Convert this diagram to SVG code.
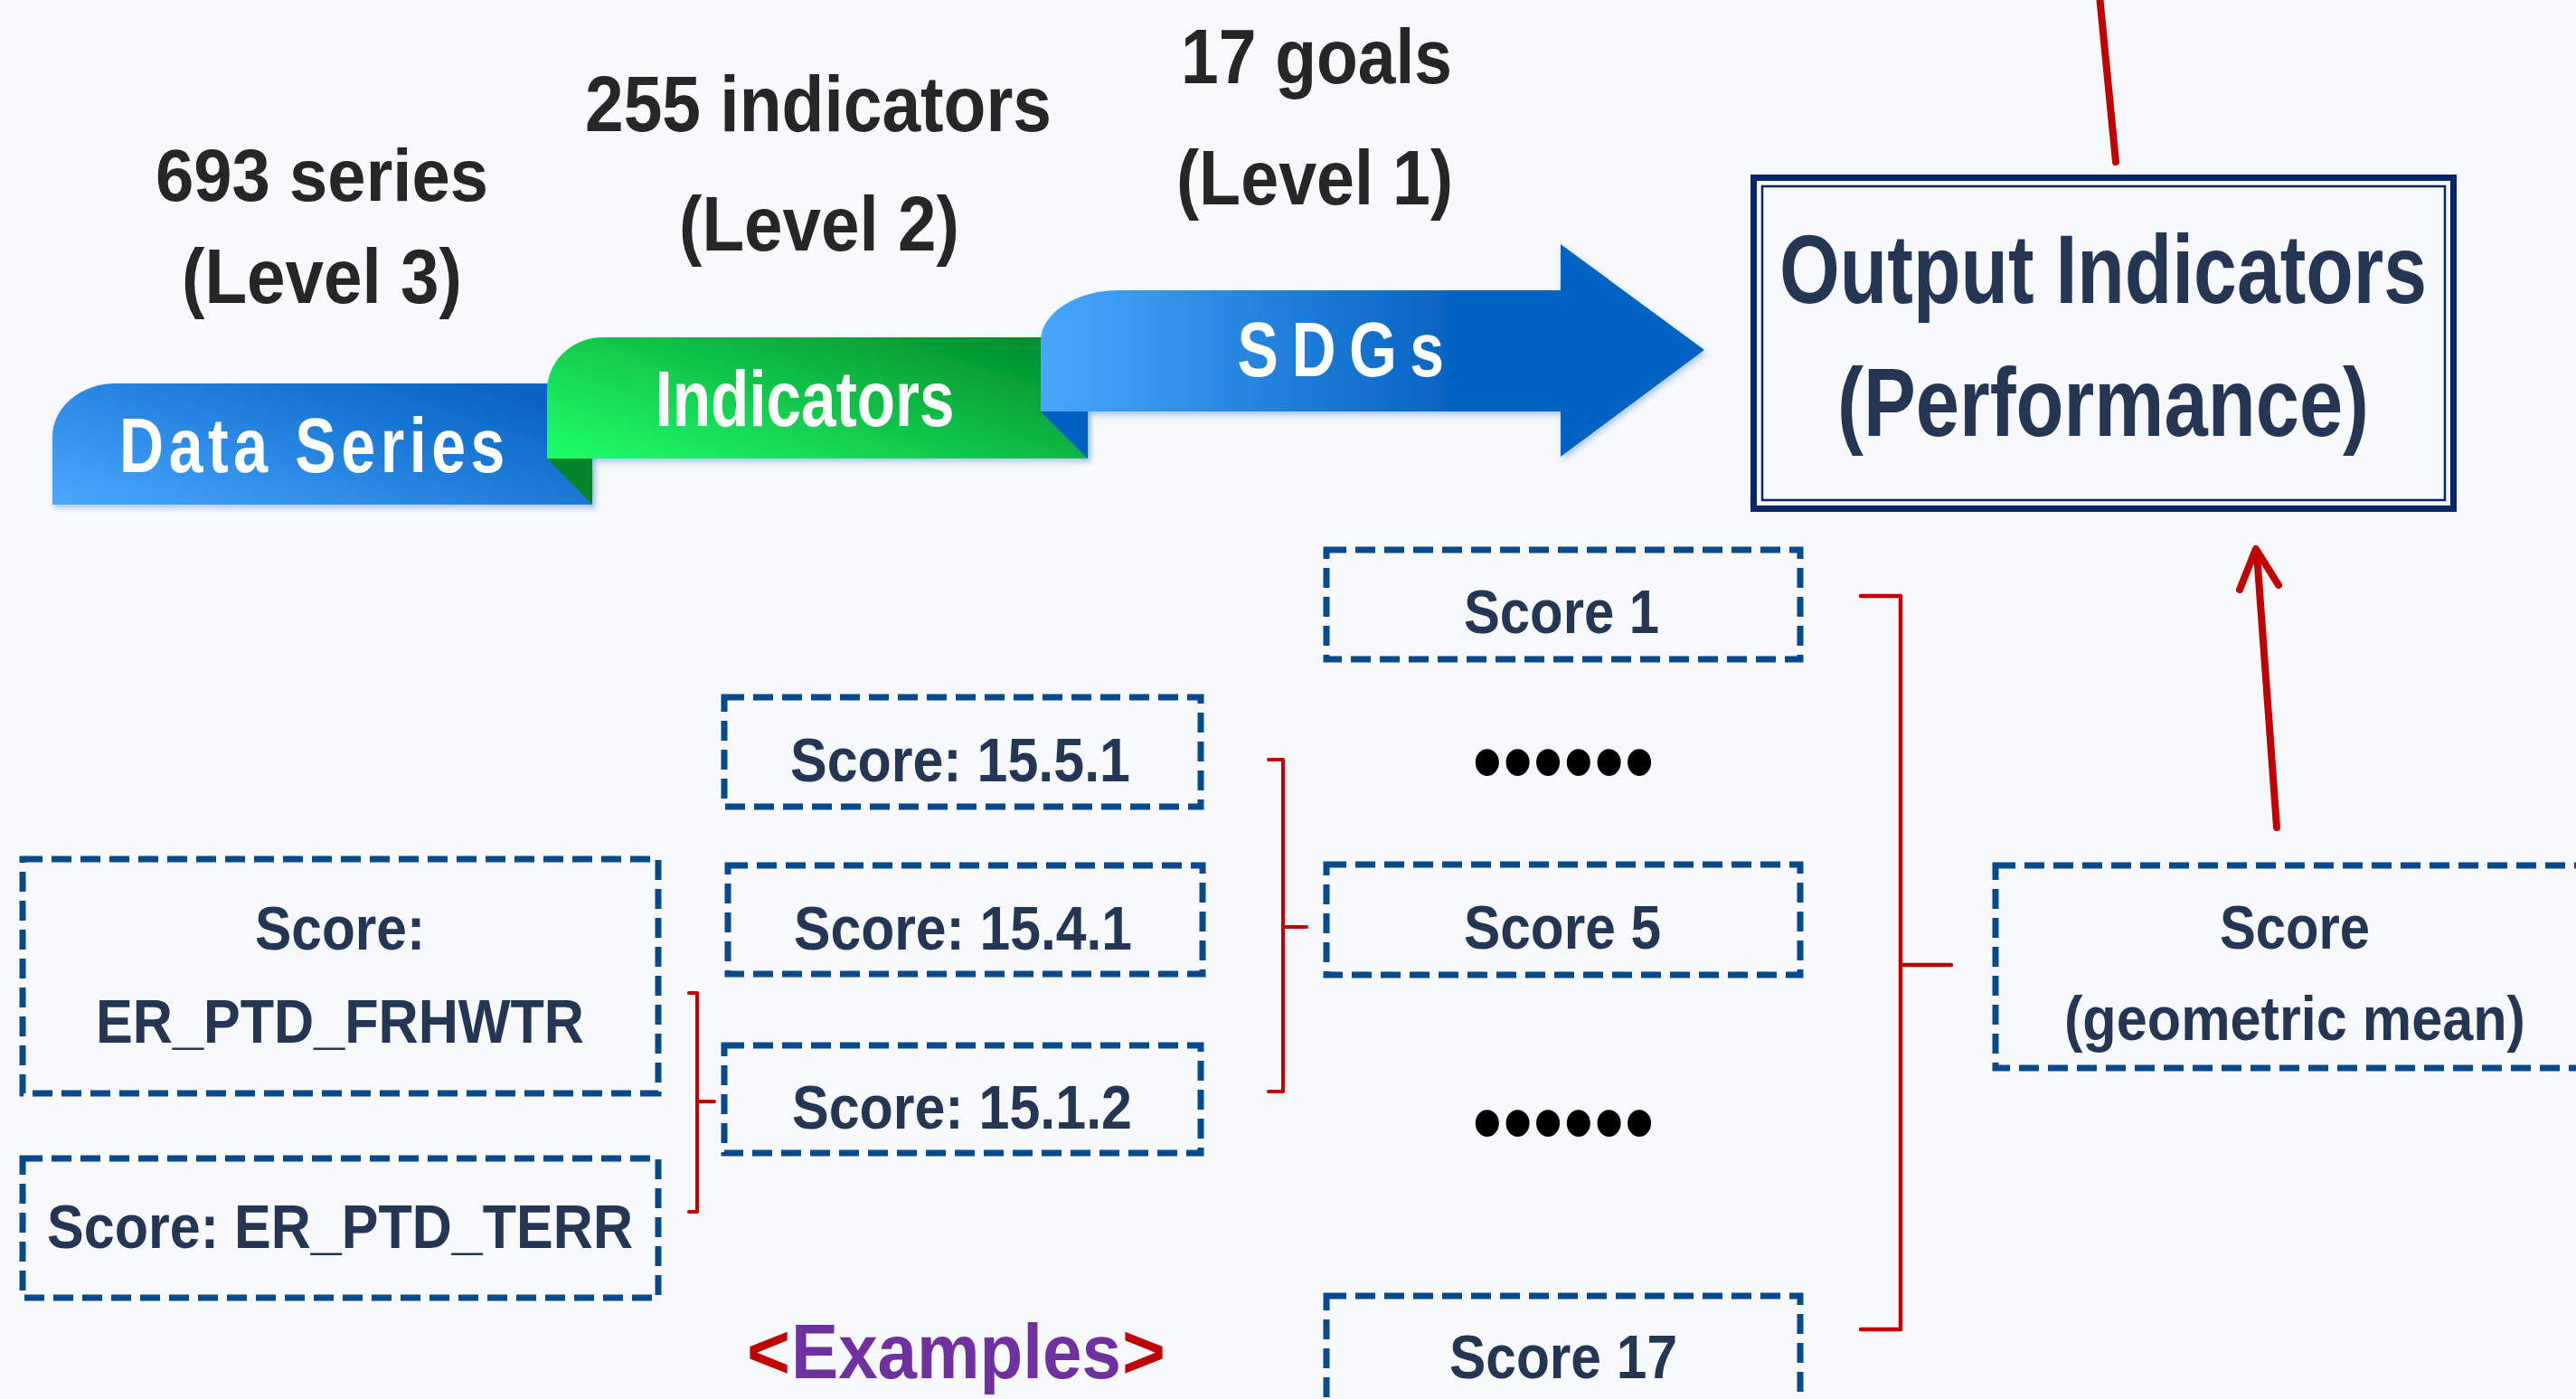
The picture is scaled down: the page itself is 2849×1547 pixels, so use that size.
<svg xmlns="http://www.w3.org/2000/svg" width="2849" height="1547" viewBox="0 0 2849 1547">
<style>
.lbl{font-family:"Liberation Sans",Arial,sans-serif;font-weight:bold;fill:#262626;text-anchor:middle}
.rib{font-family:"Liberation Sans",Arial,sans-serif;font-weight:bold;fill:#ffffff;text-anchor:middle}
.box{fill:none;stroke:#064a8d;stroke-width:7;stroke-dasharray:22 10}
.bt{font-family:"Liberation Sans",Arial,sans-serif;font-weight:bold;fill:#253655;text-anchor:middle;font-size:68px}
.ex{font-family:"Liberation Sans",Arial,sans-serif;font-weight:bold;font-size:85px}
.dots{font-family:"Liberation Sans",Arial,sans-serif;font-size:110px;fill:#000;text-anchor:middle}
.red{fill:none;stroke:#c00000;stroke-linecap:round;stroke-linejoin:round}
</style>
<defs>
<linearGradient id="gBlue1" x1="0" y1="1" x2="1" y2="0.3">
<stop offset="0" stop-color="#48a8fd"/><stop offset="1" stop-color="#0864c4"/>
</linearGradient>
<linearGradient id="gGreen" x1="0" y1="0.9" x2="1" y2="0.2">
<stop offset="0" stop-color="#1ffb66"/><stop offset="1" stop-color="#02902e"/>
</linearGradient>
<linearGradient id="gBlue2" x1="0" y1="0" x2="1" y2="0">
<stop offset="0" stop-color="#48a8fd"/><stop offset="0.62" stop-color="#0563c1"/><stop offset="1" stop-color="#0563c1"/>
</linearGradient>
<filter id="sh" x="-5%" y="-10%" width="110%" height="125%">
<feDropShadow dx="2" dy="4" stdDeviation="3" flood-color="#2a6fd0" flood-opacity="0.35"/>
</filter>
</defs>
<rect width="2849" height="1547" fill="#f7f9fb"/>

<g id="level3-label">
<text class="lbl" x="356" y="222" font-size="82" textLength="368" lengthAdjust="spacingAndGlyphs">693 series</text>
<text class="lbl" x="356" y="335" font-size="85" textLength="310" lengthAdjust="spacingAndGlyphs">(Level 3)</text>
</g>
<g id="level2-label">
<text class="lbl" x="905" y="145" font-size="88" textLength="516" lengthAdjust="spacingAndGlyphs">255 indicators</text>
<text class="lbl" x="906" y="277" font-size="85" textLength="310" lengthAdjust="spacingAndGlyphs">(Level 2)</text>
</g>
<g id="level1-label">
<text class="lbl" x="1456" y="92" font-size="85" textLength="300" lengthAdjust="spacingAndGlyphs">17 goals</text>
<text class="lbl" x="1454" y="226" font-size="86" textLength="306" lengthAdjust="spacingAndGlyphs">(Level 1)</text>
</g>

<g id="data-series" filter="url(#sh)">
<path d="M58,558 L58,483 A70,59 0 0 1 128,424 L655,424 L655,558 Z" fill="url(#gBlue1)"/>
<text class="rib" transform="translate(348,522) scale(0.8,1)" x="0" y="0" font-size="85" letter-spacing="7">Data Series</text>
</g>
<g id="indicators" filter="url(#sh)">
<path d="M605,507 L605,432 A62,59 0 0 1 667,373 L1203,373 L1203,507 Z" fill="url(#gGreen)"/>
<polygon points="605,507 655,507 655,558" fill="#03852a"/>
<text class="rib" x="890" y="471" font-size="88" textLength="331" lengthAdjust="spacingAndGlyphs">Indicators</text>
</g>
<g id="sdgs" filter="url(#sh)">
<path d="M1151,455 L1151,377 A87,56 0 0 1 1238,321 L1726,321 L1726,270 L1885,387 L1726,505 L1726,455 Z" fill="url(#gBlue2)"/>
<polygon points="1151,455 1203,455 1203,507" fill="#0562c0"/>
<text class="rib" transform="translate(1490,416) scale(0.8,1)" x="0" y="0" font-size="85" letter-spacing="18">SDGs</text>
</g>

<g id="output-indicators">
<rect x="1939.5" y="196.5" width="774" height="366" fill="none" stroke="#0a2468" stroke-width="7"/>
<rect x="1949" y="206" width="755" height="347" fill="none" stroke="#0a2468" stroke-width="2.5"/>
<text class="bt" x="2326" y="335" style="font-size:107px" textLength="716" lengthAdjust="spacingAndGlyphs">Output Indicators</text>
<text class="bt" x="2326" y="482" style="font-size:107px" textLength="588" lengthAdjust="spacingAndGlyphs">(Performance)</text>
</g>

<g id="score-frhwtr">
<rect class="box" x="25" y="950" width="703" height="259"/>
<text class="bt" x="376" y="1050" textLength="188" lengthAdjust="spacingAndGlyphs">Score:</text>
<text class="bt" x="376" y="1153" textLength="540" lengthAdjust="spacingAndGlyphs">ER_PTD_FRHWTR</text>
</g>
<g id="score-terr">
<rect class="box" x="25" y="1281" width="703" height="154"/>
<text class="bt" x="376" y="1380" textLength="648" lengthAdjust="spacingAndGlyphs">Score: ER_PTD_TERR</text>
</g>
<g id="score-15-5-1">
<rect class="box" x="801" y="771" width="527" height="121"/>
<text class="bt" x="1062" y="864" textLength="376" lengthAdjust="spacingAndGlyphs">Score: 15.5.1</text>
</g>
<g id="score-15-4-1">
<rect class="box" x="805" y="957" width="525" height="120"/>
<text class="bt" x="1065" y="1050" textLength="374" lengthAdjust="spacingAndGlyphs">Score: 15.4.1</text>
</g>
<g id="score-15-1-2">
<rect class="box" x="801" y="1156" width="527" height="119"/>
<text class="bt" x="1064" y="1248" textLength="376" lengthAdjust="spacingAndGlyphs">Score: 15.1.2</text>
</g>
<g id="examples-label">
<text class="ex" x="826" y="1524" fill="#c00000" textLength="48" lengthAdjust="spacingAndGlyphs">&lt;</text>
<text class="ex" x="875" y="1524" fill="#7030a0" textLength="365" lengthAdjust="spacingAndGlyphs">Examples</text>
<text class="ex" x="1241" y="1524" fill="#c00000" textLength="48" lengthAdjust="spacingAndGlyphs">&gt;</text>
</g>

<g id="score-1">
<rect class="box" x="1467" y="608" width="524" height="121"/>
<text class="bt" x="1727" y="700" textLength="216" lengthAdjust="spacingAndGlyphs">Score 1</text>
</g>
<g id="dots-1">
<text class="dots" x="1729" y="879" textLength="202" lengthAdjust="spacingAndGlyphs">••••••</text>
</g>
<g id="score-5">
<rect class="box" x="1467" y="956" width="524" height="122"/>
<text class="bt" x="1728" y="1049" textLength="218" lengthAdjust="spacingAndGlyphs">Score 5</text>
</g>
<g id="dots-2">
<text class="dots" x="1729" y="1278" textLength="202" lengthAdjust="spacingAndGlyphs">••••••</text>
</g>
<g id="score-17">
<rect class="box" x="1467" y="1433" width="524" height="140"/>
<text class="bt" x="1729" y="1524" textLength="252" lengthAdjust="spacingAndGlyphs">Score 17</text>
</g>
<g id="score-geomean">
<rect class="box" x="2207" y="957" width="680" height="224"/>
<text class="bt" x="2538" y="1049" textLength="166" lengthAdjust="spacingAndGlyphs">Score</text>
<text class="bt" x="2538" y="1150" textLength="510" lengthAdjust="spacingAndGlyphs">(geometric mean)</text>
</g>

<g id="connectors">
<path class="red" stroke-width="4" d="M762,1098 L771,1098 L771,1340 L762,1340 M771,1218 L790,1218"/>
<path class="red" stroke-width="4" d="M1403,840 L1419,840 L1419,1207 L1403,1207 M1419,1025 L1445,1025"/>
<path class="red" stroke-width="4.5" d="M2058,659 L2102,659 L2102,1470 L2058,1470 M2102,1067 L2158,1067"/>
<path class="red" stroke-width="8" d="M2322,-5 L2340,179"/>
<path class="red" stroke-width="8" d="M2518,915 L2496,612"/>
<path class="red" stroke-width="8" d="M2477,652 L2495,607 L2520,647"/>
</g>
</svg>
